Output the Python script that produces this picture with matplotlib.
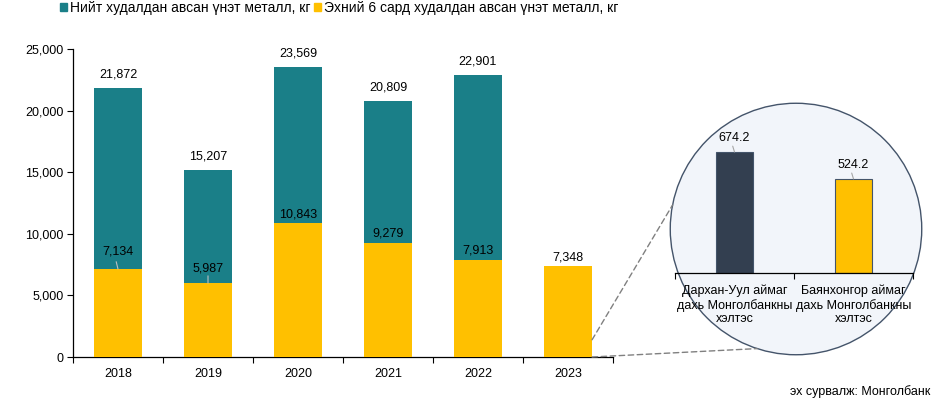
import matplotlib
matplotlib.use("Agg")
import matplotlib.pyplot as plt
from matplotlib.patches import Circle, ConnectionPatch, Patch
from matplotlib.ticker import FuncFormatter, FixedLocator
import math

plt.rcParams['font.family'] = ['Liberation Sans', 'DejaVu Sans']

years = ["2018", "2019", "2020", "2021", "2022", "2023"]
total_kg = [21872, 15207, 23569, 20809, 22901, None]
six_month_kg = [7134, 5987, 10843, 9279, 7913, 7348]
six_label_offset_pt = [8, 6.5, 2, 2, 2, 2]
six_leader = [True, True, False, False, False, False]

branches = ["Дархан-Уул аймаг\nдахь Монголбанкны\nхэлтэс",
            "Баянхонгор аймаг\nдахь Монголбанкны\nхэлтэс"]
branch_kg = [674.2, 524.2]

legend_labels = ["Нийт худалдан авсан үнэт металл, кг",
                 "Эхний 6 сард худалдан авсан үнэт металл, кг"]
source_text = "эх сурвалж: Монголбанк"

TEAL = "#1A7F88"
YELLOW = "#FFC000"
DARK = "#333F50"
CIRCLE_EDGE = "#44546A"

W, H = 945, 398
fig = plt.figure(figsize=(W / 100, H / 100), dpi=100)

def fx(px):
    return px / W

def fy(py):
    return 1 - py / H

# Main axes
ax = fig.add_axes([fx(73), fy(357), fx(613) - fx(73), fy(49) - fy(357)])
x = list(range(len(years)))
bw = 0.535
tot_x = [i for i, v in zip(x, total_kg) if v is not None]
tot_v = [v for v in total_kg if v is not None]
ax.bar(tot_x, tot_v, width=bw, color=TEAL, zorder=2)
ax.bar(x, six_month_kg, width=bw, color=YELLOW, zorder=3)

for i, v in zip(tot_x, tot_v):
    ax.annotate(f"{v:,}", (i, v), xytext=(0, 5), textcoords="offset points",
                ha="center", va="bottom", fontsize=9)
for i, v, off, lead in zip(x, six_month_kg, six_label_offset_pt, six_leader):
    ax.annotate(f"{v:,}", (i, v), xytext=(0, off), textcoords="offset points",
                ha="center", va="bottom", fontsize=9, zorder=5)
    if lead:
        ax.annotate("", (i, v), xytext=(i - (0.02 if i == 0 else 0), v + 600),
                    arrowprops=dict(arrowstyle="-", color="#BFBFBF", lw=0.8,
                                    shrinkA=0, shrinkB=0), zorder=5)

ax.set_xlim(-0.5, len(years) - 0.5)
ax.set_ylim(0, 25000)
ax.set_yticks(range(0, 25001, 5000))
ax.yaxis.set_major_formatter(FuncFormatter(lambda v, p: f"{int(v):,}"))
ax.set_xticks(x)
ax.set_xticklabels(years)
ax.xaxis.set_minor_locator(FixedLocator([i - 0.5 for i in range(len(years) + 1)]))
ax.tick_params(axis="x", which="major", length=0, pad=8, labelsize=9)
ax.tick_params(axis="x", which="minor", length=4, width=0.8, direction="out")
ax.tick_params(axis="y", length=4, width=0.8, direction="out", labelsize=9, pad=3)
for s in ["top", "right"]:
    ax.spines[s].set_visible(False)
for s in ["left", "bottom"]:
    ax.spines[s].set_linewidth(0.9)

# Legend
handles = [Patch(color=TEAL), Patch(color=YELLOW)]
fig.legend(handles, legend_labels, loc="center left", bbox_to_anchor=(fx(60), fy(8)),
           ncol=2, frameon=False, fontsize=10, handlelength=0.5, handleheight=0.5,
           handletextpad=0.2, columnspacing=0.3, borderaxespad=0, borderpad=0)

# Circle axes
cax = fig.add_axes([fx(669), fy(356), fx(923) - fx(669), fy(102) - fy(356)])
cax.set_xlim(-1.01, 1.01)
cax.set_ylim(-1.01, 1.01)
cax.axis("off")
circ = Circle((0, 0), 1, facecolor="#F2F5FA", edgecolor=CIRCLE_EDGE, lw=1.0)
cax.add_patch(circ)

# Inset bar axes
top_px = 143
iax = fig.add_axes([fx(675), fy(273), fx(913) - fx(675), fy(top_px) - fy(273)])
iax.patch.set_alpha(0)
ix = [0, 1]
ymax = branch_kg[0] * (273 - top_px) / 121
iax.bar(ix, branch_kg, width=0.305, color=[DARK, YELLOW], edgecolor=CIRCLE_EDGE, lw=0.8)
for i, v in zip(ix, branch_kg):
    iax.annotate(f"{v}", (i, v), xytext=(0, 6), textcoords="offset points",
                 ha="center", va="bottom", fontsize=9)
    iax.annotate("", (i, v), xytext=(i - 0.015, v + ymax * 0.045),
                 arrowprops=dict(arrowstyle="-", color="#A6A6A6", lw=0.8,
                                 shrinkA=0, shrinkB=0))
iax.set_xlim(-0.5, 1.5)
iax.set_ylim(0, ymax)
iax.set_yticks([])
iax.set_xticks(ix)
iax.set_xticklabels(branches, fontsize=9, linespacing=1.2)
iax.xaxis.set_minor_locator(FixedLocator([-0.5, 0.5, 1.5]))
iax.tick_params(axis="x", which="major", length=0, pad=8)
iax.tick_params(axis="x", which="minor", length=4, width=0.8, direction="out")
for s in ["top", "right", "left"]:
    iax.spines[s].set_visible(False)
iax.spines["bottom"].set_linewidth(0.9)

# Dashed connectors
for ya, ang in [(1400, 169), (0, 252)]:
    cp = ConnectionPatch(xyA=(5 + bw / 2, ya), coordsA=ax.transData,
                         xyB=(math.cos(math.radians(ang)), math.sin(math.radians(ang))),
                         coordsB=cax.transData, linestyle=(0, (4, 2.5)),
                         color="#808080", lw=1.0)
    fig.add_artist(cp)

fig.text(fx(930), fy(392), source_text, ha="right", va="center", fontsize=9)

fig.savefig("out.png", dpi=100)
